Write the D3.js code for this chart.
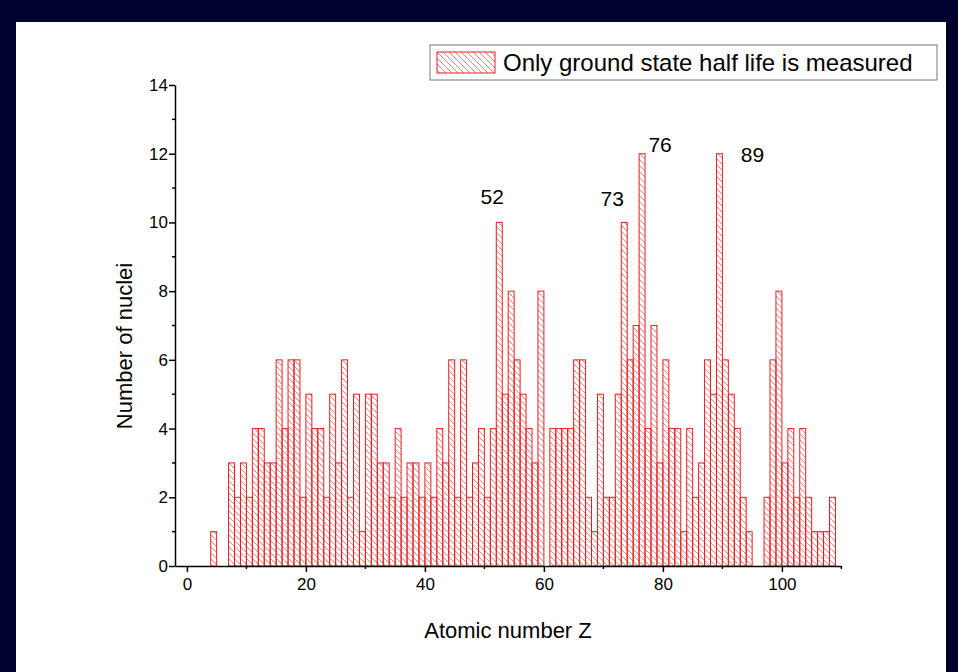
<!DOCTYPE html>
<html>
<head>
<meta charset="utf-8">
<script src="https://cdn.jsdelivr.net/npm/d3@7"></script>
<style>
  body { margin: 0; background: #01012e; }
  svg text { font-family: "Liberation Sans", Arial, sans-serif; fill: #000; }
</style>
</head>
<body>
<div id="histChart"></div>
<script>

// atomic number Z (bin start) and count of nuclei
var zValues = [];
for (var z = 4; z <= 108; z++) zValues.push(z);
var counts = [1, 0, 0, 3, 2, 3, 2, 4, 4, 3, 3, 6, 4, 6, 6, 2, 5, 4, 4, 2,
              5, 3, 6, 2, 5, 1, 5, 5, 3, 3, 2, 4, 2, 3, 3, 2, 3, 2, 4, 3,
              6, 2, 6, 2, 3, 4, 2, 4, 10, 5, 8, 6, 5, 4, 3, 8, 0, 4, 4, 4,
              4, 6, 6, 2, 1, 5, 2, 2, 5, 10, 6, 7, 12, 4, 7, 3, 6, 4, 4, 1,
              4, 2, 3, 6, 5, 12, 6, 5, 4, 2, 1, 0, 0, 2, 6, 8, 3, 4, 2, 4,
              2, 1, 1, 1, 2];
var xTicks = [0, 20, 40, 60, 80, 100];
var xMinorTicks = [10, 30, 50, 70, 90, 110];
var yTicks = [0, 2, 4, 6, 8, 10, 12, 14];
var yMinorTicks = [1, 3, 5, 7, 9, 11, 13];
var peakLabels = ['52', '73', '76', '89'];
var peakZ = [52, 73, 76, 89];
var legendText = 'Only ground state half life is measured';

var data = zValues.map(function (d, i) { return { z: d, n: counts[i] }; });

var svg = d3.select('#histChart').append('svg')
    .attr('width', 958)
    .attr('height', 672)
    .style('display', 'block');

// navy frame + white slide area
svg.append('rect').attr('width', 958).attr('height', 672).attr('fill', '#01012e');
svg.append('rect').attr('x', 16).attr('y', 22).attr('width', 930).attr('height', 650).attr('fill', '#fff');

var defs = svg.append('defs');
defs.append('pattern')
    .attr('id', 'hatch')
    .attr('patternUnits', 'userSpaceOnUse')
    .attr('width', 6)
    .attr('height', 6)
    .append('path')
    .attr('d', 'M0,0 L6,6 M-1,5 L1,7 M5,-1 L7,1')
    .attr('stroke', '#e06a6a')
    .attr('stroke-width', 0.8);

var x = d3.scaleLinear().domain([-2, 110]).range([175, 841.4]);
var y = d3.scaleLinear().domain([0, 14]).range([566, 85]);

// bars
svg.append('g')
    .selectAll('rect')
    .data(data.filter(function (d) { return d.n > 0; }))
    .enter()
    .append('rect')
    .attr('x', function (d) { return x(d.z); })
    .attr('y', function (d) { return y(d.n); })
    .attr('width', function (d) { return x(d.z + 1) - x(d.z); })
    .attr('height', function (d) { return y(0) - y(d.n); })
    .attr('fill', 'url(#hatch)')
    .attr('stroke', '#ee1c1c')
    .attr('stroke-width', 1);

// x axis
var xAxis = svg.append('g').attr('transform', 'translate(0,566)');
xAxis.call(d3.axisBottom(x).tickValues(xTicks).tickSize(6).tickSizeOuter(0));
xAxis.attr('font-size', 17).attr('font-family', '"Liberation Sans", Arial, sans-serif');
xAxis.select('.domain').attr('stroke-width', 1.5);
xAxis.selectAll('.tick line').attr('stroke-width', 1.5);
xAxis.selectAll('.tick text').attr('y', 12);
xAxis.selectAll('.minor')
    .data(xMinorTicks)
    .enter()
    .append('line')
    .attr('class', 'minor')
    .attr('x1', function (d) { return x(d); })
    .attr('x2', function (d) { return x(d); })
    .attr('y1', 0)
    .attr('y2', 3)
    .attr('stroke', '#000')
    .attr('stroke-width', 1.5);

// y axis
var yAxis = svg.append('g').attr('transform', 'translate(175,0)');
yAxis.call(d3.axisLeft(y).tickValues(yTicks).tickSize(6).tickSizeOuter(0));
yAxis.attr('font-size', 17).attr('font-family', '"Liberation Sans", Arial, sans-serif');
yAxis.select('.domain').attr('stroke-width', 1.5);
yAxis.selectAll('.tick line').attr('stroke-width', 1.5);
yAxis.selectAll('.tick text').attr('x', -7);
yAxis.selectAll('.minor')
    .data(yMinorTicks)
    .enter()
    .append('line')
    .attr('class', 'minor')
    .attr('y1', function (d) { return y(d); })
    .attr('y2', function (d) { return y(d); })
    .attr('x1', 0)
    .attr('x2', -3)
    .attr('stroke', '#000')
    .attr('stroke-width', 1.5);

// axis titles
svg.append('text')
    .attr('x', 508)
    .attr('y', 638)
    .attr('text-anchor', 'middle')
    .attr('font-size', 22)
    .text('Atomic number Z');

svg.append('text')
    .attr('transform', 'translate(132,346) rotate(-90)')
    .attr('text-anchor', 'middle')
    .attr('font-size', 22)
    .text('Number of nuclei');

// peak annotations
var peakDx = [-4, -9, 21, 36];
var peakY = [204, 206, 152, 162];
svg.append('g')
    .selectAll('text')
    .data(peakLabels)
    .enter()
    .append('text')
    .attr('x', function (d, i) { return x(peakZ[i]) + peakDx[i]; })
    .attr('y', function (d, i) { return peakY[i]; })
    .attr('text-anchor', 'middle')
    .attr('font-size', 21)
    .text(function (d) { return d; });

// legend
var legend = svg.append('g').attr('transform', 'translate(430,45)');
legend.append('rect')
    .attr('width', 507)
    .attr('height', 35)
    .attr('fill', '#fff')
    .attr('stroke', '#777')
    .attr('stroke-width', 1);
legend.append('rect')
    .attr('x', 7)
    .attr('y', 7)
    .attr('width', 58)
    .attr('height', 21)
    .attr('fill', 'url(#hatch)')
    .attr('stroke', '#ee1c1c')
    .attr('stroke-width', 1);
legend.append('text')
    .attr('x', 73)
    .attr('y', 26)
    .attr('font-size', 24)
    .text(legendText);

</script>
</body>
</html>
